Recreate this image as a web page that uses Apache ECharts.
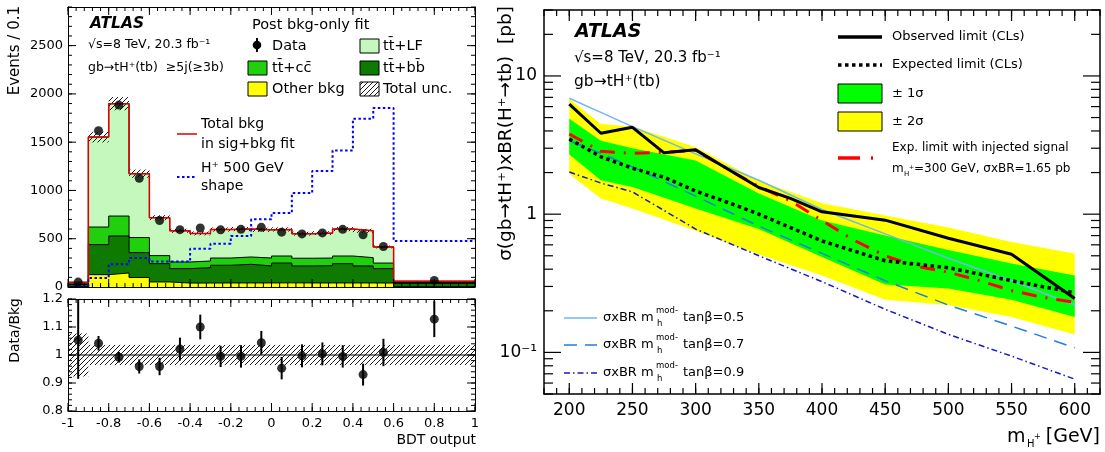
<!DOCTYPE html>
<html>
<head>
<meta charset="utf-8">
<script src="https://cdn.jsdelivr.net/npm/echarts@6/dist/echarts.min.js"></script>
<style>html,body{margin:0;padding:0;background:#fff}#c{width:1105px;height:452px}</style>
</head>
<body>
<div id="c"></div>
<script>
// ---------- BDT output distribution, >=5j(>=3b) region ----------
const binEdges   = [-1, -0.9, -0.8, -0.7, -0.6, -0.5, -0.4, -0.3, -0.2, -0.1, 0, 0.1, 0.2, 0.3, 0.4, 0.5, 0.6, 1.0];
const binCenters = [-0.95, -0.85, -0.75, -0.65, -0.55, -0.45, -0.35, -0.25, -0.15, -0.05, 0.05, 0.15, 0.25, 0.35, 0.45, 0.55, 0.8];
const otherBkg   = [5, 128, 145, 98, 52, 41, 41, 42, 42, 42, 43, 42, 42, 42, 42, 41, 3];
const ttbb       = [20, 311, 383, 258, 190, 149, 159, 183, 193, 176, 205, 176, 179, 200, 176, 149, 35];
const ttcc       = [8, 182, 207, 156, 83, 69, 69, 75, 76, 82, 73, 80, 79, 79, 86, 58, 8];
const ttLF       = [15, 932, 1164, 662, 393, 323, 286, 295, 289, 292, 275, 254, 258, 279, 278, 167, 14];
const totalSigBkgFit = [48, 1553, 1899, 1174, 718, 582, 555, 595, 600, 592, 596, 552, 558, 600, 582, 415, 60];
const totalUncFrac = [0.077, 0.036, 0.036, 0.036, 0.036, 0.036, 0.036, 0.036, 0.036, 0.036, 0.036, 0.036, 0.036, 0.036, 0.036, 0.036, 0.036];
const dataEvents = [51, 1618, 1884, 1126, 689, 594, 611, 592, 597, 618, 568, 550, 560, 597, 541, 419, 68];
const hplusShape = [5, 93, 235, 300, 265, 265, 397, 449, 528, 701, 766, 973, 1201, 1415, 1743, 1853, 476];
const ratioDataBkg = [1.053, 1.042, 0.992, 0.959, 0.959, 1.021, 1.100, 0.995, 0.995, 1.044, 0.953, 0.997, 1.004, 0.995, 0.930, 1.009, 1.128];
const ratioErrUp   = [0.20, 0.026, 0.019, 0.025, 0.031, 0.041, 0.044, 0.038, 0.040, 0.042, 0.040, 0.041, 0.041, 0.040, 0.039, 0.049, 0.064];
const ratioErrDown = [0.138, 0.026, 0.019, 0.025, 0.031, 0.041, 0.044, 0.038, 0.040, 0.042, 0.040, 0.041, 0.041, 0.040, 0.039, 0.049, 0.064];
const eventsTicks = [0, 500, 1000, 1500, 2000, 2500];
const bdtRange = [-1, 1];
const eventsRange = [0, 2900];
const ratioRange = [0.8, 1.2];

// ---------- cross-section x BR limits ----------
const limitMass   = [200, 225, 250, 275, 300, 325, 350, 375, 400, 450, 500, 550, 600];
const observedLim = [6.26, 3.85, 4.25, 2.78, 2.92, 2.13, 1.56, 1.30, 1.04, 0.905, 0.67, 0.513, 0.245];
const expectedLim = [3.5, 2.6, 2.15, 1.85, 1.47, 1.22, 1.0, 0.8, 0.64, 0.46, 0.41, 0.33, 0.27];
const bandMass    = [200, 225, 250, 300, 350, 400, 450, 500, 550, 600];
const band2Up     = [6.8, 4.5, 4.3, 3.05, 1.75, 1.2, 0.98, 0.8, 0.63, 0.52];
const band1Up     = [4.9, 3.4, 3.0, 2.45, 1.41, 0.9, 0.7, 0.55, 0.44, 0.36];
const band1Down   = [2.7, 1.76, 1.57, 1.1, 0.78, 0.49, 0.31, 0.29, 0.24, 0.18];
const band2Down   = [1.95, 1.3, 1.1, 0.76, 0.51, 0.36, 0.24, 0.22, 0.18, 0.135];
const injMass     = [200, 225, 250, 275, 300, 325, 350, 375, 400, 425, 450, 475, 500, 525, 550, 575, 600];
const injectedLim = [3.8, 2.85, 2.75, 2.8, 2.9, 2.13, 1.58, 1.25, 0.9, 0.65, 0.5, 0.42, 0.38, 0.33, 0.28, 0.25, 0.23];
const mhmodMass   = [200, 225, 250, 300, 350, 400, 450, 500, 550, 600];
const xsecTanb05  = [6.9, 5.45, 4.3, 2.73, 1.76, 1.08, 0.72, 0.48, 0.33, 0.22];
const xsecTanb07  = [3.4, 2.75, 2.2, 1.35, 0.82, 0.52, 0.33, 0.22, 0.155, 0.108];
const xsecTanb09  = [2.02, 1.68, 1.45, 0.78, 0.5, 0.325, 0.205, 0.135, 0.094, 0.064];
const massRange = [180, 620];
const xsecRange = [0.05, 30];
const massMajorTicks = [200, 250, 300, 350, 400, 450, 500, 550, 600];

const FONT = 'DejaVu Sans';

// stacked cumulative contributions, drawn back to front
const cumOther = otherBkg.slice();
const cumBB = cumOther.map((v, i) => v + ttbb[i]);
const cumCC = cumBB.map((v, i) => v + ttcc[i]);
const cumLF = cumCC.map((v, i) => v + ttLF[i]);

function stepData(vals) {
  const d = vals.map((v, i) => [binEdges[i], v]);
  d.push([binEdges[binEdges.length - 1], vals[vals.length - 1]]);
  return d;
}
function range(a, b, step) {
  const out = [];
  const n = Math.round((b - a) / step);
  for (let i = 0; i <= n; i++) out.push(+(a + i * step).toFixed(6));
  return out;
}

function makeHatch() {
  const c = document.createElement('canvas');
  c.width = 5; c.height = 5;
  const g = c.getContext('2d');
  g.strokeStyle = '#000'; g.lineWidth = 0.9;
  g.beginPath();
  g.moveTo(-1, 6); g.lineTo(6, -1);
  g.moveTo(-3, 3); g.lineTo(3, -3);
  g.moveTo(2, 8); g.lineTo(8, 2);
  g.stroke();
  return c;
}
const hatchFill = { image: makeHatch(), repeat: 'repeat' };

const noTicks = { axisTick: { show: false }, minorTick: { show: false }, splitLine: { show: false }, minorSplitLine: { show: false } };
function mirrorAxis(base, pos) {
  return Object.assign({}, base, { position: pos, axisLabel: { show: false }, name: '' });
}
function valueAxis(grid, rng, interval, lineW, label) {
  return Object.assign({
    type: 'value', gridIndex: grid, min: rng[0], max: rng[1], interval, z: 20,
    axisLine: { show: true, onZero: false, lineStyle: { color: '#000', width: lineW } },
    axisLabel: label || { show: false }
  }, noTicks);
}

const xTop = valueAxis(0, bdtRange, 0.2, 1);
const yTop = valueAxis(0, eventsRange, 500, 1, {
  color: '#000', fontSize: 13, fontFamily: FONT, margin: 5, showMaxLabel: false,
  formatter: v => (eventsTicks.indexOf(Math.round(v)) >= 0 ? String(Math.round(v)) : '') });
const xRatio = valueAxis(1, bdtRange, 0.2, 1, {
  color: '#000', fontSize: 13, fontFamily: FONT, margin: 6, formatter: v => String(Math.round(v * 10) / 10) });
const yRatio = valueAxis(1, ratioRange, 0.1, 1, {
  color: '#000', fontSize: 13, fontFamily: FONT, margin: 5, formatter: v => String(Math.round(v * 10) / 10) });
const xMass = valueAxis(2, massRange, 10, 1.5, {
  color: '#000', fontSize: 17, fontFamily: FONT, margin: 8,
  formatter: v => (massMajorTicks.indexOf(Math.round(v)) >= 0 ? String(Math.round(v)) : '') });
const yXsec = Object.assign({
  type: 'log', logBase: 10, gridIndex: 2, min: xsecRange[0], max: xsecRange[1], z: 20,
  axisLine: { show: true, onZero: false, lineStyle: { color: '#000', width: 1.5 } },
  axisLabel: { color: '#000', fontSize: 17, fontFamily: FONT, margin: 7,
    formatter: v => {
      const l = Math.log10(v), r = Math.round(l);
      if (Math.abs(l - r) > 1e-6) return '';
      if (r === 0) return '1';
      if (r === 1) return '10';
      if (r === -1) return '10\u207B\u00B9';
      return '';
    } }
}, noTicks);

function ln(x1, y1, x2, y2, w) {
  return { type: 'line', shape: { x1, y1, x2, y2 }, style: { stroke: '#000', lineWidth: w || 1 } };
}

// tick marks on all four sides of a frame, placed through the axis scales
function frameTicks(axisIdx, xAnchor, yAnchor, xMajor, xMinor, yMajor, yMinor, len, w) {
  return {
    type: 'custom', xAxisIndex: axisIdx, yAxisIndex: axisIdx, silent: true, z: 30, clip: false,
    data: [[xAnchor, yAnchor]],
    renderItem: (p, api) => {
      const cs = p.coordSys;
      const L = cs.x, R = cs.x + cs.width, T = cs.y, B = cs.y + cs.height;
      const ch = [];
      const xt = (vals, l) => vals.forEach(v => {
        const x = api.coord([v, yAnchor])[0];
        if (x < L - 0.5 || x > R + 0.5) return;
        ch.push(ln(x, B, x, B - l, w), ln(x, T, x, T + l, w));
      });
      const yt = (vals, l) => vals.forEach(v => {
        const y = api.coord([xAnchor, v])[1];
        if (y < T - 0.5 || y > B + 0.5) return;
        ch.push(ln(L, y, L + l, y, w), ln(R, y, R - l, y, w));
      });
      xt(xMajor, len[0]); xt(xMinor, len[1]); yt(yMajor, len[2]); yt(yMinor, len[3]);
      return { type: 'group', children: ch };
    }
  };
}
const logMinor = [];
const logMajor = [];
for (let e = -2; e <= 1; e++) for (let k = 1; k <= 9; k++) {
  const v = +(k * Math.pow(10, e)).toPrecision(6);
  if (v < xsecRange[0] || v > xsecRange[1]) continue;
  (k === 1 ? logMajor : logMinor).push(v);
}

function bandPolygon(lo, hi, color) {
  return {
    type: 'custom', xAxisIndex: 4, yAxisIndex: 4, silent: true, z: 1,
    data: [[bandMass[0], lo[0]]],
    renderItem: (p, api) => {
      const pts = [];
      for (let i = 0; i < bandMass.length; i++) pts.push(api.coord([bandMass[i], hi[i]]));
      for (let i = bandMass.length - 1; i >= 0; i--) pts.push(api.coord([bandMass[i], lo[i]]));
      return { type: 'polygon', shape: { points: pts }, style: { fill: color, stroke: 'none' } };
    }
  };
}

function limitLine(xs, ys, color, width, type, z) {
  return {
    type: 'line', xAxisIndex: 4, yAxisIndex: 4, showSymbol: false, silent: true, z: z || 3,
    data: xs.map((m, i) => [m, ys[i]]),
    lineStyle: { color, width, type, cap: 'butt' }
  };
}

const series = [
  // stacked backgrounds
  { type: 'line', xAxisIndex: 0, yAxisIndex: 0, step: 'end', showSymbol: false, silent: true, data: stepData(cumLF),
    lineStyle: { color: '#000', width: 1 }, areaStyle: { color: '#c4f8bd', opacity: 1 } },
  { type: 'line', xAxisIndex: 0, yAxisIndex: 0, step: 'end', showSymbol: false, silent: true, data: stepData(cumCC),
    lineStyle: { color: '#000', width: 1 }, areaStyle: { color: '#20d00c', opacity: 1 } },
  { type: 'line', xAxisIndex: 0, yAxisIndex: 0, step: 'end', showSymbol: false, silent: true, data: stepData(cumBB),
    lineStyle: { color: '#000', width: 1 }, areaStyle: { color: '#0f7a00', opacity: 1 } },
  { type: 'line', xAxisIndex: 0, yAxisIndex: 0, step: 'end', showSymbol: false, silent: true, data: stepData(cumOther),
    lineStyle: { color: '#000', width: 1 }, areaStyle: { color: '#ffff00', opacity: 1 } },
  // total uncertainty
  { type: 'custom', xAxisIndex: 0, yAxisIndex: 0, silent: true, z: 3,
    data: cumLF.map((t, i) => [binEdges[i], binEdges[i + 1], t * (1 - totalUncFrac[i]), t * (1 + totalUncFrac[i])]),
    encode: { x: [0, 1], y: [2, 3] },
    renderItem: (p, api) => {
      const a = api.coord([api.value(0), api.value(3)]);
      const b = api.coord([api.value(1), api.value(2)]);
      return { type: 'rect', shape: { x: a[0], y: a[1], width: b[0] - a[0], height: b[1] - a[1] }, style: { fill: hatchFill } };
    } },
  // total background in signal+background fit
  { type: 'line', xAxisIndex: 0, yAxisIndex: 0, step: 'end', showSymbol: false, silent: true, z: 4,
    data: stepData(totalSigBkgFit), lineStyle: { color: '#dd0000', width: 1.5 } },
  // H+ 500 GeV signal shape
  { type: 'line', xAxisIndex: 0, yAxisIndex: 0, step: 'end', showSymbol: false, silent: true, z: 4,
    data: stepData(hplusShape), lineStyle: { color: '#0000ff', width: 2, type: [2.5, 2.5] } },
  // data
  { type: 'scatter', xAxisIndex: 0, yAxisIndex: 0, silent: true, z: 5, symbol: 'circle', symbolSize: 9,
    itemStyle: { color: '#000' }, data: binCenters.map((x, i) => [x, dataEvents[i]]) },
  frameTicks(0, 0, 1000, range(-1, 1, 0.2), range(-1, 1, 0.04), range(0, 2500, 500), range(0, 2900, 100), [8, 4, 8, 4], 1),

  // ratio panel: uncertainty band, unity line, points
  { type: 'custom', xAxisIndex: 2, yAxisIndex: 2, silent: true, z: 2,
    data: totalUncFrac.map((u, i) => [binEdges[i], binEdges[i + 1], 1 - u, 1 + u]),
    encode: { x: [0, 1], y: [2, 3] },
    renderItem: (p, api) => {
      const a = api.coord([api.value(0), api.value(3)]);
      const b = api.coord([api.value(1), api.value(2)]);
      return { type: 'rect', shape: { x: a[0], y: a[1], width: b[0] - a[0], height: b[1] - a[1] }, style: { fill: hatchFill } };
    } },
  { type: 'line', xAxisIndex: 2, yAxisIndex: 2, showSymbol: false, silent: true, z: 3,
    data: [[binEdges[0], 1], [binEdges[binEdges.length - 1], 1]], lineStyle: { color: '#000', width: 1 } },
  { type: 'custom', xAxisIndex: 2, yAxisIndex: 2, silent: true, z: 4, clip: true,
    data: binCenters.map((x, i) => [x, ratioDataBkg[i], ratioDataBkg[i] - ratioErrDown[i], ratioDataBkg[i] + ratioErrUp[i]]),
    encode: { x: 0, y: [1, 2, 3] },
    renderItem: (p, api) => {
      const a = api.coord([api.value(0), api.value(3)]);
      const b = api.coord([api.value(0), api.value(2)]);
      return ln(a[0], a[1], b[0], b[1], 2);
    } },
  { type: 'scatter', xAxisIndex: 2, yAxisIndex: 2, silent: true, z: 5, symbol: 'circle', symbolSize: 9,
    itemStyle: { color: '#000' }, data: binCenters.map((x, i) => [x, ratioDataBkg[i]]) },
  frameTicks(2, 0, 1, range(-1, 1, 0.2), range(-1, 1, 0.04), range(0.8, 1.2, 0.1), range(0.8, 1.2, 0.02), [8, 4, 8, 4], 1),

  // limit panel
  bandPolygon(band2Down, band2Up, '#ffff00'),
  bandPolygon(band1Down, band1Up, '#00ff00'),
  limitLine(mhmodMass, xsecTanb05, '#6db8f2', 1.5, 'solid', 3),
  limitLine(mhmodMass, xsecTanb07, '#1f7ee0', 1.5, [13, 8], 3),
  limitLine(mhmodMass, xsecTanb09, '#1818c8', 1.5, [6, 3, 1.5, 3], 3),
  limitLine(injMass, injectedLim, '#ff0000', 3, [15, 9, 2, 9], 4),
  limitLine(limitMass, expectedLim, '#000000', 3.5, [3.5, 3.5], 5),
  limitLine(limitMass, observedLim, '#000000', 3, 'solid', 6),
  frameTicks(4, 400, 1, massMajorTicks, range(massRange[0], massRange[1], 10), logMajor, logMinor, [11, 6, 17, 9], 1.2)
];

// ---- text and legend elements
function txt(x, y, text, size, o) {
  o = o || {};
  return {
    type: 'text', x, y, rotation: o.rot || 0, silent: true, z: 100,
    style: {
      text, fill: '#000', fontSize: size, fontFamily: FONT,
      fontWeight: o.weight || 'normal', fontStyle: o.italic ? 'italic' : 'normal',
      align: o.align || 'left', verticalAlign: o.va || 'middle',
      textAlign: o.align || 'left', textVerticalAlign: o.va || 'middle'
    }
  };
}
function box(x, y, w, h, fill) {
  return { type: 'rect', silent: true, z: 100, shape: { x, y, width: w, height: h }, style: { fill, stroke: '#000', lineWidth: 1 } };
}
function gline(x1, y1, x2, y2, color, width, dash) {
  return { type: 'line', silent: true, z: 100, shape: { x1, y1, x2, y2 }, style: { stroke: color, lineWidth: width, lineDash: dash || null, lineCap: 'butt' } };
}
const TB = 't\u0304';
const graphics = [
  // left panel labels
  txt(15, 6, 'Events / 0.1', 15, { rot: Math.PI / 2, align: 'right' }),
  txt(15, 298, 'Data/Bkg', 14, { rot: Math.PI / 2, align: 'right' }),
  txt(476, 440, 'BDT output', 14, { align: 'right' }),
  txt(90, 24, 'ATLAS', 15.5, { weight: 'bold', italic: true }),
  txt(88, 45, '\u221As=8 TeV, 20.3 fb\u207B\u00B9', 12.5),
  txt(88, 68, 'gb\u2192tH\u207A(tb)  \u22655j(\u22653b)', 12.5),
  txt(252, 25, 'Post bkg-only fit', 14.5),
  { type: 'circle', silent: true, z: 100, shape: { cx: 257, cy: 45, r: 4.3 }, style: { fill: '#000' } },
  gline(257, 38, 257, 52, '#000', 2),
  txt(272, 46, 'Data', 14.5),
  box(248, 61, 19, 14, '#20d00c'), txt(272, 68, 't' + TB + '+cc\u0304', 14.5),
  box(248, 82, 19, 14, '#ffff00'), txt(272, 89, 'Other bkg', 14.5),
  box(360, 39, 19, 14, '#c4f8bd'), txt(383, 46, 't' + TB + '+LF', 14.5),
  box(360, 61, 19, 14, '#0f7a00'), txt(383, 68, 't' + TB + '+bb\u0304', 14.5),
  { type: 'rect', silent: true, z: 100, shape: { x: 360, y: 82, width: 19, height: 14 }, style: { fill: hatchFill, stroke: '#000', lineWidth: 1 } },
  txt(383, 89, 'Total unc.', 14.5),
  gline(177, 134, 197, 134, '#dd0000', 1.5),
  txt(201, 124, 'Total bkg', 14), txt(201, 144, 'in sig+bkg fit', 14),
  gline(177, 177, 197, 177, '#0000ff', 2, [2.5, 2.5]),
  txt(201, 168, 'H\u207A 500 GeV', 14), txt(201, 186, 'shape', 14),

  // limit panel labels
  txt(506, 6, '\u03C3(gb\u2192tH\u207A)xBR(H\u207A\u2192tb)  [pb]', 18.5, { rot: Math.PI / 2, align: 'right' }),
  txt(1007, 437, 'm', 19),
  txt(1027, 444, 'H', 10), txt(1034, 437, '+', 8),
  txt(1100, 437, '[GeV]', 19, { align: 'right' }),
  txt(575, 32, 'ATLAS', 19, { weight: 'bold', italic: true }),
  txt(574, 58, '\u221As=8 TeV, 20.3 fb\u207B\u00B9', 15),
  txt(574, 82, 'gb\u2192tH\u207A(tb)', 15.5),
  gline(838, 37, 882, 37, '#000', 3.5),
  txt(892, 37, 'Observed limit (CLs)', 13),
  gline(838, 65, 882, 65, '#000', 3.5, [3.5, 3.5]),
  txt(892, 65, 'Expected limit (CLs)', 13),
  box(838, 84, 44, 19, '#00ff00'), txt(892, 94, '\u00B1 1\u03C3', 13),
  box(838, 112, 44, 19, '#ffff00'), txt(892, 122, '\u00B1 2\u03C3', 13),
  gline(838, 158, 860, 158, '#ff0000', 3.5), gline(871, 158, 873, 158, '#ff0000', 3.5),
  txt(892, 148, 'Exp. limit with injected signal', 12),
  txt(892, 169, 'm', 12), txt(904, 174, 'H', 7), txt(909, 167, '+', 6),
  txt(914, 169, '=300 GeV, \u03C3xBR=1.65 pb', 12),
  gline(564, 318, 597, 318, '#6db8f2', 1.5),
  gline(564, 345, 597, 345, '#1f7ee0', 1.5, [13, 8]),
  gline(564, 373, 597, 373, '#1818c8', 1.5, [6, 3, 1.5, 3])
];
['0.5', '0.7', '0.9'].forEach((tb, i) => {
  const y = [318, 345, 373][i];
  graphics.push(
    txt(603, y, '\u03C3xBR m', 13),
    txt(656, y - 7, 'mod-', 8.5),
    txt(657, y + 6, 'h', 8.5),
    txt(683, y, 'tan\u03B2=' + tb, 13)
  );
});

const option = {
  animation: false,
  backgroundColor: '#fff',
  grid: [
    { left: 68, top: 7, width: 407, height: 280 },
    { left: 68, top: 299, width: 407, height: 112 },
    { left: 544, top: 10, width: 556, height: 384 }
  ],
  xAxis: [
    xTop, mirrorAxis(xTop, 'top'),
    xRatio, mirrorAxis(xRatio, 'top'),
    xMass, mirrorAxis(xMass, 'top')
  ],
  yAxis: [
    yTop, mirrorAxis(yTop, 'right'),
    yRatio, mirrorAxis(yRatio, 'right'),
    yXsec, mirrorAxis(yXsec, 'right')
  ],
  series,
  graphic: { elements: graphics }
};

const chart = echarts.init(document.getElementById('c'), null, { renderer: 'canvas' });
chart.setOption(option);
</script>
</body>
</html>
